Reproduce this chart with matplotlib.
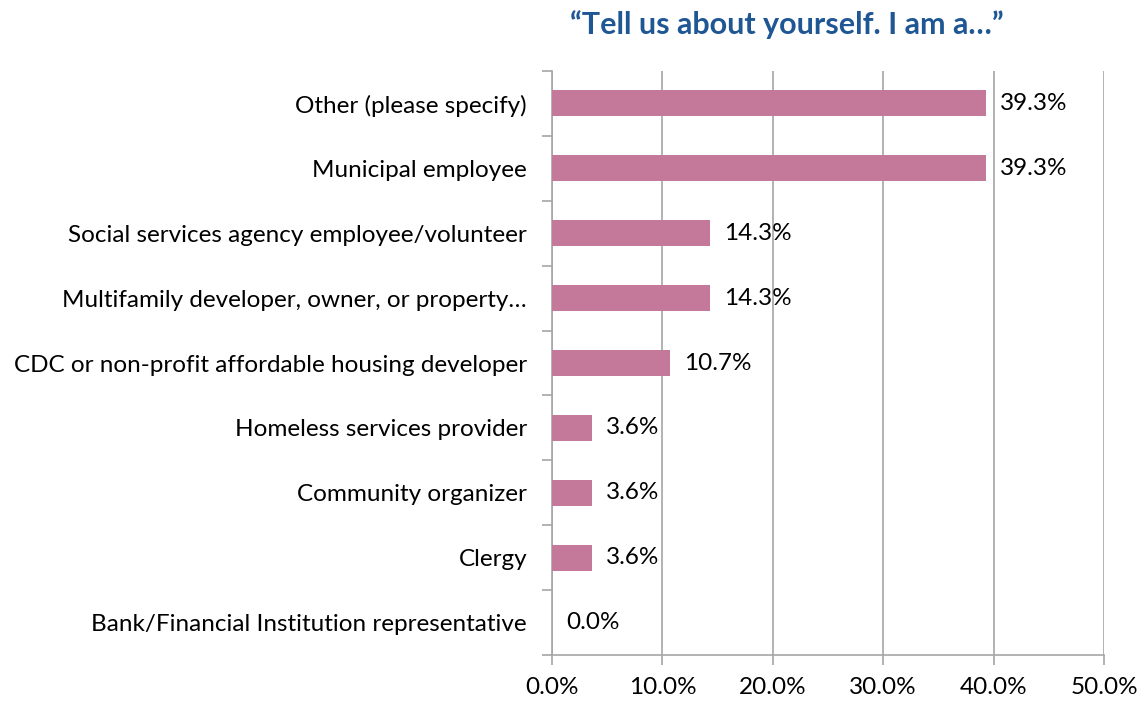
import numpy as np
import matplotlib.pyplot as plt
from matplotlib.ticker import FixedLocator, PercentFormatter

plt.rcParams['font.family'] = ['Lato', 'DejaVu Sans']

categories = ['Other (please specify)', 'Municipal employee',
              'Social services agency employee/volunteer',
              'Multifamily developer, owner, or property\u2026',
              'CDC or non-profit affordable housing developer',
              'Homeless services provider', 'Community organizer', 'Clergy',
              'Bank/Financial Institution representative']
values = [39.3, 39.3, 14.3, 14.3, 10.7, 3.6, 3.6, 3.6, 0.0]

bar_color = '#C5799A'
grey = '#A6A6A6'
fs = 17.5

fig = plt.figure(figsize=(11.41, 7.01), dpi=100)
ax = fig.add_axes([0.4838, 0.0656, 0.4838, 0.8331])

y = np.arange(len(categories))
ax.barh(y, values, height=0.4, color=bar_color, zorder=3)
ax.set_ylim(len(categories) - 0.5, -0.5)
ax.set_xlim(0, 50)

for yi, v in zip(y, values):
    ax.annotate(f'{v:.1f}%', (v, yi), xytext=(10, 0), textcoords='offset points',
                va='center', ha='left', fontsize=fs, color='black')

ax.set_yticks(y)
ax.set_yticklabels(categories, fontsize=fs)
ax.tick_params(axis='y', length=0, pad=18)
ax.yaxis.set_minor_locator(FixedLocator(np.arange(-0.5, len(categories), 1)))
ax.tick_params(axis='y', which='minor', length=7, color=grey, width=1.2)

ax.set_xticks(np.arange(0, 51, 10))
ax.xaxis.set_major_formatter(PercentFormatter(decimals=1))
ax.tick_params(axis='x', labelsize=fs, length=7, color=grey, width=1.2, pad=9)
ax.grid(axis='x', color=grey, linewidth=1.2, zorder=0)

for s in ['top', 'right']:
    ax.spines[s].set_visible(False)
for s in ['left', 'bottom']:
    ax.spines[s].set_color(grey)
    ax.spines[s].set_linewidth(1.2)

fig.text(0.69, 0.965, '\u201cTell us about yourself. I am a\u2026\u201d', ha='center', va='center',
         fontsize=22, fontweight='bold', color='#1F5694')

fig.savefig('out.png', dpi=100)
